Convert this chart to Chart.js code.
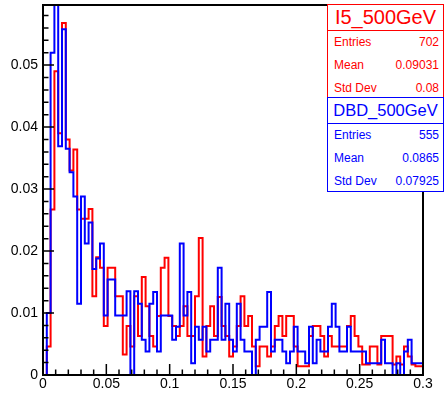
<!DOCTYPE html>
<html>
<head>
<meta charset="UTF-8">
<script src="https://cdn.jsdelivr.net/npm/chart.js"></script>
<style>
    body { margin: 0; background: #fff; font-family: "Liberation Sans", Arial, sans-serif; }
    .wrap { position: relative; width: 444px; height: 393px; }
    .stats { position: absolute; left: 327px; width: 117px; box-sizing: border-box; background: #fff; border: 1.5px solid; }
    .stats .title { height: 25px; line-height: 25px; text-align: center; border-bottom: 1.5px solid; white-space: nowrap; }
    .stats .row { height: 23px; line-height: 23px; font-size: 12px; display: flex; justify-content: space-between; padding: 0 4px 0 6px; }
    .red { color: #ff0000; border-color: #ff0000; top: 4px; height: 95px; }
    .blue { color: #0000ff; border-color: #0000ff; top: 97px; height: 95px; }
</style>
</head>
<body>
<div class="wrap">
    <canvas id="c" width="444" height="393"></canvas>
    <div class="stats red">
        <div class="title" style="font-size:20px">I5_500GeV</div>
        <div class="row"><span>Entries</span><span>702</span></div>
        <div class="row"><span>Mean</span><span>0.09031</span></div>
        <div class="row"><span>Std Dev</span><span>0.08</span></div>
    </div>
    <div class="stats blue">
        <div class="title" style="font-size:16.5px">DBD_500GeV</div>
        <div class="row"><span>Entries</span><span>555</span></div>
        <div class="row"><span>Mean</span><span>0.0865</span></div>
        <div class="row"><span>Std Dev</span><span>0.07925</span></div>
    </div>
</div>
<script>
// histogram binning (100 bins from 0 to 0.3)
const binLow = 0;
const binWidth = 0.003;
const yMax = 0.0597;

// I5_500GeV (red), normalised bin contents
const i5Values = [
    0.0046, 0.0267, 0.049, 0.039, 0.0568, 0.038, 0.033, 0.0364, 0.0267, 0.0252,
    0.0252, 0.0268, 0.0127, 0.019, 0.0173, 0.0079, 0.0173, 0.0173, 0.0127, 0.0127,
    0.0033, 0.0079, 0.0046, 0.0127, 0.0063, 0.0158, 0.0111, 0.0063, 0.0046, 0.0095,
    0.0173, 0.0189, 0.0095, 0.0079, 0.0063, 0.0079, 0.0111, 0.0063, 0.0063, 0.0127,
    0.0221, 0.003, 0.0079, 0.0111, 0.0063, 0.0126, 0.0079, 0.0063, 0.003, 0.0046,
    0.0079, 0.0127, 0.0079, 0.0095, 0.0046, 0.0014, 0.0046, 0.0046, 0.003, 0.0046,
    0.0079, 0.0095, 0.0063, 0.0095, 0.0095, 0.0046, 0.0014, 0.0014, 0.0014, 0.0063,
    0.0079, 0.0079, 0.0063, 0.003, 0.0063, 0.0046, 0.0046, 0.0046, 0.0046, 0.0079,
    0.0095, 0.0063, 0.0046, 0.0017, 0.0017, 0.0046, 0.0046, 0.0017, 0.0063, 0.0063,
    0.0063, 0.0017, 0.003, 0.0017, 0.0046, 0.003, 0.0017, 0.0014, 0.0014, 0.0014
];

// DBD_500GeV (blue)
const dbdValues = [
    0.010, 0.052, 0.065, 0.0369, 0.0558, 0.0365, 0.0327, 0.0288, 0.0115, 0.0288,
    0.0212, 0.0246, 0.0171, 0.0188, 0.0212, 0.0096, 0.0154, 0.0154, 0.0096, 0.0096,
    0.0096, 0.0135, 0, 0.0135, 0.0115, 0.0057, 0.0038, 0.0115, 0.0134, 0.0038,
    0.0096, 0.0096, 0.0096, 0.0057, 0.0078, 0.0212, 0.0096, 0.0134, 0.0019, 0.0078,
    0.0057, 0.0078, 0.0038, 0.0057, 0.0057, 0.0173, 0.0057, 0.0115, 0.0057, 0.0038,
    0.0115, 0.0057, 0.0038, 0.0038, 0, 0.0057, 0.0078, 0.0078, 0.0134, 0.0038,
    0.0057, 0.0057, 0.0038, 0.0019, 0.0038, 0.0078, 0.0038, 0.0038, 0.0019, 0.0078,
    0.0019, 0.0057, 0.0038, 0.0038, 0.0078, 0.0115, 0.0078, 0.0038, 0.0038, 0.0078,
    0.0038, 0.0038, 0.0038, 0.0038, 0.0019, 0.0019, 0.0019, 0.0019, 0.0057, 0.0019,
    0.0019, 0, 0.0019, 0, 0.0038, 0.0057, 0.0019, 0.0019, 0.0019, 0
];

// bin i is held from its low edge to its high edge
function toSteps(values) {
    const pts = [{ x: binLow, y: 0 }];
    values.forEach((v, i) => pts.push({ x: binLow + (i + 1) * binWidth, y: v }));
    return pts;
}

function fmt(v, step) {
    const n = v / step;
    if (Math.abs(n - Math.round(n)) > 1e-6) return '';
    return String(parseFloat(v.toFixed(3)));
}

// ROOT style frame with inward ticks
const rootFrame = {
    id: 'rootFrame',
    afterDatasetsDraw(chart) {
        const { ctx, chartArea: a, scales: { x, y } } = chart;
        ctx.save();
        ctx.strokeStyle = '#000';
        ctx.lineWidth = 1.5;
        ctx.beginPath();
        for (let i = 0; i <= 30; i++) {
            const px = x.getPixelForValue(i * 0.01);
            const len = i % 5 === 0 ? 11 : 5.5;
            ctx.moveTo(px, a.bottom);
            ctx.lineTo(px, a.bottom - len);
        }
        for (let i = 0; i * 0.002 <= yMax; i++) {
            const py = y.getPixelForValue(i * 0.002);
            const len = i % 5 === 0 ? 11 : 5.5;
            ctx.moveTo(a.left, py);
            ctx.lineTo(a.left + len, py);
        }
        ctx.stroke();
        ctx.lineWidth = 2;
        ctx.strokeRect(a.left, a.top, a.right - a.left, a.bottom - a.top);
        ctx.restore();
    }
};

Chart.defaults.font.family = '"Liberation Sans", Arial, sans-serif';
Chart.defaults.color = '#000';

new Chart(document.getElementById('c'), {
    type: 'line',
    data: {
        datasets: [
            {
                label: 'I5_500GeV',
                data: toSteps(i5Values),
                borderColor: '#ff0000',
                borderWidth: 2,
                stepped: 'before',
                pointRadius: 0,
                fill: false,
                order: 2
            },
            {
                label: 'DBD_500GeV',
                data: toSteps(dbdValues),
                borderColor: '#0000ff',
                borderWidth: 2,
                stepped: 'before',
                pointRadius: 0,
                fill: false,
                order: 1
            }
        ]
    },
    options: {
        responsive: false,
        animation: false,
        devicePixelRatio: 1,
        layout: { padding: { left: 0, top: 5, right: 21, bottom: 0 } },
        plugins: { legend: { display: false }, tooltip: { enabled: false } },
        scales: {
            x: {
                type: 'linear',
                min: 0,
                max: 0.3,
                grid: { display: false, drawTicks: false },
                border: { display: false },
                ticks: {
                    stepSize: 0.05,
                    autoSkip: false,
                    maxRotation: 0,
                    padding: 1,
                    font: { size: 14 },
                    callback: v => fmt(v, 0.05)
                },
                afterFit: s => { s.height = 18; s.paddingLeft = 0; s.paddingRight = 0; }
            },
            y: {
                type: 'linear',
                min: 0,
                max: yMax,
                grid: { display: false, drawTicks: false },
                border: { display: false },
                ticks: {
                    stepSize: 0.01,
                    padding: 5,
                    font: { size: 14 },
                    callback: v => fmt(v, 0.01)
                },
                afterFit: s => { s.width = 43; s.paddingTop = 0; s.paddingBottom = 0; }
            }
        }
    },
    plugins: [rootFrame]
});
</script>
</body>
</html>
